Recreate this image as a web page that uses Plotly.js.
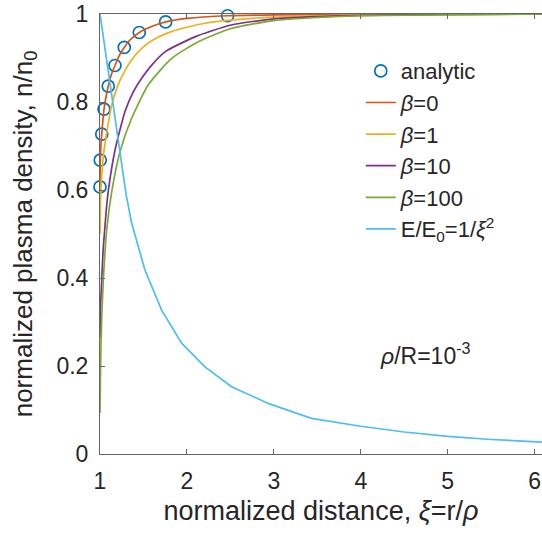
<!DOCTYPE html>
<html>
<head>
<meta charset="utf-8">
<script src="https://cdn.plot.ly/plotly-3.0.1.min.js"></script>
<style>html,body{margin:0;padding:0;overflow:hidden;background:#fff}</style>
</head>
<body>
<div id="chart" style="width:542px;height:533px"></div>
<script>
// analytic points
const analyticX = [1.0, 1.003, 1.02, 1.046, 1.095, 1.172, 1.279, 1.452, 1.755, 2.468];
const analyticY = [0.607, 0.668, 0.727, 0.784, 0.836, 0.883, 0.924, 0.958, 0.982, 0.996];

// beta = 0
const beta0X = [1.0, 1.003, 1.01, 1.02, 1.046, 1.07, 1.095, 1.13, 1.172, 1.22, 1.279, 1.35, 1.452, 1.6, 1.755, 2.0, 2.468, 3.0, 4.0, 5.0, 6.1];
const beta0Y = [0.60, 0.668, 0.70, 0.727, 0.784, 0.812, 0.836, 0.862, 0.883, 0.905, 0.924, 0.942, 0.958, 0.972, 0.982, 0.990, 0.996, 0.998, 0.999, 1.0, 1.0];

// beta = 1
const beta1X = [1.0, 1.004, 1.01, 1.02, 1.035, 1.05, 1.069, 1.1, 1.134, 1.2, 1.28, 1.38, 1.479, 1.6, 1.82, 2.0, 2.21, 2.5, 3.0, 3.5, 4.0, 5.0, 6.1];
const beta1Y = [0.50, 0.56, 0.60, 0.635, 0.67, 0.695, 0.72, 0.757, 0.793, 0.835, 0.869, 0.90, 0.922, 0.940, 0.960, 0.970, 0.979, 0.986, 0.993, 0.996, 0.998, 0.999, 1.0];

// beta = 10
const beta10X = [1.0, 1.005, 1.02, 1.035, 1.05, 1.077, 1.1, 1.172, 1.287, 1.38, 1.479, 1.6, 1.747, 2.092, 2.51, 3.0, 3.5, 4.0, 5.0, 6.1];
const beta10Y = [0.264, 0.33, 0.395, 0.46, 0.50, 0.565, 0.605, 0.69, 0.778, 0.822, 0.854, 0.885, 0.914, 0.948, 0.975, 0.989, 0.994, 0.997, 0.999, 1.0];

// beta = 100
const beta100X = [1.0, 1.005, 1.011, 1.02, 1.038, 1.077, 1.134, 1.23, 1.364, 1.556, 1.824, 2.13, 2.51, 3.0, 3.5, 4.0, 5.0, 6.1];
const beta100Y = [0.093, 0.18, 0.243, 0.31, 0.395, 0.509, 0.595, 0.687, 0.763, 0.839, 0.899, 0.937, 0.967, 0.985, 0.992, 0.996, 0.998, 1.0];

// E/E0 = 1/xi^2
const fieldX = [1.0, 1.3, 1.364, 1.517, 1.709, 1.939, 2.207, 2.514, 2.935, 3.433, 4.0, 4.5, 5.0, 5.5, 6.1];
const fieldY = [1.0, 0.59, 0.525, 0.418, 0.327, 0.252, 0.198, 0.153, 0.115, 0.081, 0.063, 0.050, 0.040, 0.033, 0.027];

const xTicks = [1, 2, 3, 4, 5, 6];
const yTicks = [0, 0.2, 0.4, 0.6, 0.8, 1];
const yTickText = ['0', '0.2', '0.4', '0.6', '0.8', '1'];

const lw = 1.7;
const traces = [
  {x: analyticX, y: analyticY, mode: 'markers', name: 'analytic',
   cliponaxis: false,
   marker: {symbol: 'circle-open', size: 12, color: '#0072BD', line: {width: 1.7, color: '#0072BD'}}},
  {x: beta0X, y: beta0Y, mode: 'lines', name: '<i>β</i>=0', line: {color: '#D95319', width: lw, shape: 'spline', smoothing: 0.6}},
  {x: beta1X, y: beta1Y, mode: 'lines', name: '<i>β</i>=1', line: {color: '#EDB120', width: lw, shape: 'spline', smoothing: 0.6}},
  {x: beta10X, y: beta10Y, mode: 'lines', name: '<i>β</i>=10', line: {color: '#7E2F8E', width: lw, shape: 'spline', smoothing: 0.6}},
  {x: beta100X, y: beta100Y, mode: 'lines', name: '<i>β</i>=100', line: {color: '#77AC30', width: lw, shape: 'spline', smoothing: 0.6}},
  {x: fieldX, y: fieldY, mode: 'lines', name: 'E/E<sub>0</sub>=1/<i>ξ</i><sup>2</sup>', line: {color: '#4DBEEE', width: lw}}
];

const axisCol = '#666666';
const fontFam = 'Liberation Sans, Arial, sans-serif';
const layout = {
  width: 542, height: 533,
  margin: {l: 100, r: 0, t: 14, b: 79},
  paper_bgcolor: '#ffffff', plot_bgcolor: '#ffffff',
  font: {family: fontFam, color: '#262626', size: 24},
  showlegend: true,
  legend: {x: 0.59, y: 0.918, xanchor: 'left', yanchor: 'top', bgcolor: 'rgba(0,0,0,0)', borderwidth: 0,
           font: {size: 22, color: '#262626'}, tracegroupgap: 0},
  xaxis: {range: [1, 6.085], tickvals: xTicks, ticks: 'inside', ticklen: 5, tickcolor: axisCol,
          showline: true, linecolor: axisCol, linewidth: 1, mirror: 'ticks', showgrid: false, zeroline: false,
          tickfont: {size: 23}, automargin: false, ticklabelstandoff: 6,
          title: {text: 'normalized distance, <i>ξ</i>=r/<i>ρ</i>', font: {size: 27}, standoff: 8}},
  yaxis: {range: [0, 1], tickvals: yTicks, ticktext: yTickText, ticks: 'inside', ticklen: 5, tickcolor: axisCol,
          showline: true, linecolor: axisCol, linewidth: 1, showgrid: false, zeroline: false,
          tickfont: {size: 23}, automargin: false, ticklabelstandoff: 6,
          title: {text: 'normalized plasma density, n/n<sub>0</sub>', font: {size: 26}, standoff: 16}},
  annotations: [
    {x: 4.74, y: 0.228, xref: 'x', yref: 'y', text: '<i>ρ</i>/R=10<sup>-3</sup>', showarrow: false,
     font: {size: 23, color: '#262626'}}
  ]
};

Plotly.newPlot('chart', traces, layout, {displayModeBar: false, staticPlot: true});
</script>
</body>
</html>
